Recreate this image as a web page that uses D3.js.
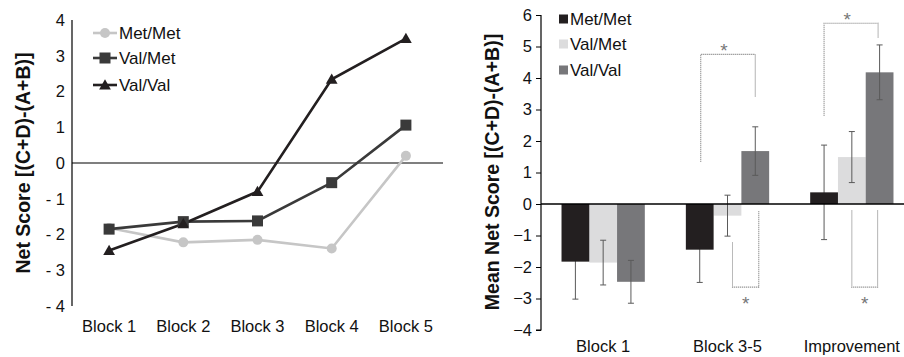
<!DOCTYPE html>
<html><head><meta charset="utf-8">
<script src="https://cdn.jsdelivr.net/npm/d3@7"></script>
<style>
body{margin:0;background:#fff;}
svg{display:block;font-family:"Liberation Sans",Arial,sans-serif;}
</style></head>
<body><svg id="c" width="904" height="357"></svg>
<script>
// ---- Left chart data ----
const blocks = ["Block 1","Block 2","Block 3","Block 4","Block 5"];
const lineSeries = ["Met/Met","Val/Met","Val/Val"];
const metMetLine = [-1.82, -2.22, -2.15, -2.39, 0.2];
const valMetLine = [-1.85, -1.64, -1.62, -0.55, 1.06];
const valValLine = [-2.45, -1.70, -0.80, 2.34, 3.48];
const leftTicks = [4,3,2,1,0,-1,-2,-3,-4];

// ---- Right chart data ----
const groups = ["Block 1","Block 3-5","Improvement"];
const barSeries = ["Met/Met","Val/Met","Val/Val"];
const metMetMean = [-1.83, -1.45, 0.37];
const valMetMean = [-1.86, -0.37, 1.49];
const valValMean = [-2.47, 1.68, 4.18];
const metMetErr = [1.19, 1.04, 1.50];
const valMetErr = [0.71, 0.65, 0.81];
const valValErr = [0.68, 0.77, 0.87];
const rightTicks = [6,5,4,3,2,1,0,-1,-2,-3,-4];
// significance brackets: group, left bar, right bar, left end, level, right end, star value
const sigGroup = ["Block 3-5","Block 3-5","Improvement","Improvement"];
const sigFrom = [0, 1, 0, 1];
const sigTo = [2, 2, 2, 2];
const sigYA = [1.34, -1.22, 2.80, -0.21];
const sigYH = [4.75, -2.64, 5.74, -2.64];
const sigYB = [3.40, -0.21, 5.28, -0.21];
const sigStar = [4.99, -3.05, 5.98, -3.05];

const svg = d3.select("#c");
const fs = "16.5px";

// ================= LEFT CHART =================
const xL = d3.scalePoint().domain(blocks).range([72,443]).padding(0.5);
const yL = d3.scaleLinear().domain([-4,4]).range([306,20]);
const gL = svg.append("g");

gL.append("line").attr("x1",72).attr("x2",72).attr("y1",yL(4)).attr("y2",yL(-4))
  .attr("stroke","#000").attr("stroke-width",1.2);
gL.append("line").attr("x1",72).attr("x2",443).attr("y1",yL(0)).attr("y2",yL(0))
  .attr("stroke","#000").attr("stroke-width",1.2);

gL.selectAll(".ytl").data(leftTicks).enter().append("text")
  .attr("x",65).attr("y",d=>yL(d)).attr("dy","0.35em").attr("text-anchor","end")
  .attr("font-size",fs).attr("fill","#111")
  .text(d=>d<0?"- "+Math.abs(d):String(d));

gL.selectAll(".xtl").data(blocks).enter().append("text")
  .attr("x",d=>xL(d)).attr("y",332).attr("text-anchor","middle")
  .attr("font-size",fs).attr("fill","#111").text(d=>d);

gL.append("text").attr("transform","translate(30,163) rotate(-90)")
  .attr("text-anchor","middle").attr("font-size","19.5px").attr("font-weight","bold")
  .attr("fill","#111").text("Net Score [(C+D)-(A+B)]");

const lineData = [metMetLine, valMetLine, valValLine];
const lineColors = ["#c6c6c6","#3a3a3a","#231f20"];
const line = d3.line().x((d,i)=>xL(blocks[i])).y(d=>yL(d));
const tri = d3.symbol().type(d3.symbolTriangle).size(60);

function marker(g, k, x, y){
  if(k===0) g.append("circle").attr("cx",x).attr("cy",y).attr("r",5).attr("fill",lineColors[0]);
  else if(k===1) g.append("rect").attr("x",x-5.5).attr("y",y-5.5).attr("width",11).attr("height",11).attr("fill",lineColors[1]);
  else g.append("path").attr("d",tri()).attr("transform",`translate(${x},${y+1})`).attr("fill",lineColors[2]);
}

lineData.forEach((vals,k)=>{
  gL.append("path").datum(vals).attr("d",line).attr("fill","none")
    .attr("stroke",lineColors[k]).attr("stroke-width",2.6);
});
lineData.forEach((vals,k)=>{
  vals.forEach((v,i)=>marker(gL,k,xL(blocks[i]),yL(v)));
});

// legend left
const legYL = [33,58,85];
lineSeries.forEach((s,k)=>{
  gL.append("line").attr("x1",93).attr("x2",117).attr("y1",legYL[k]).attr("y2",legYL[k])
    .attr("stroke",lineColors[k]).attr("stroke-width",2.6);
  marker(gL,k,105,legYL[k]);
  gL.append("text").attr("x",119).attr("y",legYL[k]).attr("dy","0.35em")
    .attr("font-size","17px").attr("fill","#111").text(s);
});

// ================= RIGHT CHART =================
const x0 = d3.scaleBand().domain(groups).range([541,914]).paddingInner(0.33).paddingOuter(0.165);
const x1 = d3.scaleBand().domain(barSeries).range([0,x0.bandwidth()]);
const yR = d3.scaleLinear().domain([-4,6]).range([330,15]);
const gR = svg.append("g");
const barColors = ["#231f20","#dcdcdd","#77777a"];
const means = [metMetMean, valMetMean, valValMean];
const errs = [metMetErr, valMetErr, valValErr];

// y axis
const axR = d3.axisLeft(yR).tickValues(rightTicks).tickSize(5).tickPadding(4).tickFormat(d3.format("d"));
const ga = gR.append("g").attr("transform","translate(541,0)").call(axR);
ga.attr("font-family",null).attr("font-size",null);
ga.select(".domain").attr("stroke","#000").attr("stroke-width",1.2).attr("d","M-5,15.5H0V330H-5");
ga.selectAll(".tick line").attr("stroke","#000");
ga.selectAll(".tick text").attr("font-size",fs).attr("fill","#111");

gR.append("text").attr("transform","translate(499,172) rotate(-90)")
  .attr("text-anchor","middle").attr("font-size","19.5px").attr("font-weight","bold")
  .attr("fill","#111").text("Mean Net Score [(C+D)-(A+B)]");

function drawBar(gi,k){
  const g = groups[gi], s = barSeries[k], v = means[k][gi];
  gR.append("rect").attr("x",x0(g)+x1(s)).attr("width",x1.bandwidth())
    .attr("y",yR(Math.max(0,v))).attr("height",Math.abs(yR(v)-yR(0)))
    .attr("fill",barColors[k]);
}
// light bars first
groups.forEach((g,gi)=>{ drawBar(gi,1); drawBar(gi,2); });
// error bars
groups.forEach((g,gi)=>{
  barSeries.forEach((s,k)=>{
    const v = means[k][gi], e = errs[k][gi];
    const cx = x0(g)+x1(s)+x1.bandwidth()/2;
    const eg = gR.append("g").attr("stroke","#5a5a5a").attr("stroke-width",1);
    eg.append("line").attr("x1",cx).attr("x2",cx).attr("y1",yR(v+e)).attr("y2",yR(v-e));
    eg.append("line").attr("x1",cx-3).attr("x2",cx+3).attr("y1",yR(v+e)).attr("y2",yR(v+e));
    eg.append("line").attr("x1",cx-3).attr("x2",cx+3).attr("y1",yR(v-e)).attr("y2",yR(v-e));
  });
});
// dark bars cover their error lines
groups.forEach((g,gi)=>{ drawBar(gi,0); });
// zero line
gR.append("line").attr("x1",541).attr("x2",904).attr("y1",yR(0)).attr("y2",yR(0))
  .attr("stroke","#000").attr("stroke-width",1.5);

// significance brackets
const shift = [[1,0],[5,3.5],[0,-1.5],[0,-2]];
sigGroup.forEach((g,i)=>{
  const xa = x0(g)+x1(barSeries[sigFrom[i]])+x1.bandwidth()/2+shift[i][0];
  const xb = x0(g)+x1(barSeries[sigTo[i]])+x1.bandwidth()/2+shift[i][1];
  gR.append("path")
    .attr("d",`M${xa},${yR(sigYA[i])}V${yR(sigYH[i])}H${xb}V${yR(sigYB[i])}`)
    .attr("fill","none").attr("stroke","#777").attr("stroke-width",1.1)
    .attr("stroke-dasharray","1,1");
  gR.append("text").attr("x",(xa+xb)/2 - (sigYH[i]>0?4:0)).attr("y",yR(sigStar[i])+10)
    .attr("text-anchor","middle").attr("font-size","19px").attr("fill","#777").text("*");
});

// x labels
gR.selectAll(".xl").data(groups).enter().append("text")
  .attr("x",d=>x0(d)+x0.bandwidth()/2).attr("y",352).attr("text-anchor","middle")
  .attr("font-size",fs).attr("fill","#111").text(d=>d);

// legend right
const legYR = [19,44,70];
barSeries.forEach((s,k)=>{
  gR.append("rect").attr("x",559).attr("y",legYR[k]-4.5).attr("width",9).attr("height",9)
    .attr("fill",barColors[k]);
  gR.append("text").attr("x",570).attr("y",legYR[k]).attr("dy","0.35em")
    .attr("font-size","17px").attr("fill","#111").text(s);
});
</script>
</body></html>
